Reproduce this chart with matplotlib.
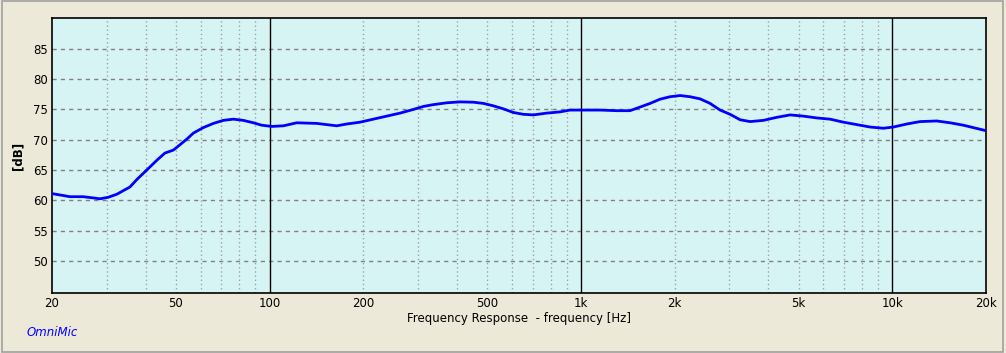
import numpy as np
import matplotlib
matplotlib.use("Agg")
import matplotlib.pyplot as plt
from matplotlib.patches import Rectangle

# frequency response
freq = [20, 20.2, 21.7, 22.8, 25.2, 27.1, 28.5, 30.3, 32.3, 33.9, 35.6, 37.4, 40.3,
        43.4, 46.1, 49.1, 51.6, 54.2, 56.9, 61.2, 66.0, 71.0, 76.5, 82.3, 88.7,
        94.3, 101.6, 110.7, 122.2, 141.7, 152.5, 164.3, 176.9, 195.2, 215.4,
        237.8, 262.4, 289.4, 311.8, 335.8, 370.6, 408.9, 451.2, 486.0, 523.3,
        563.5, 606.8, 653.2, 703.5, 776.4, 856.8, 922.6, 1018, 1152, 1303, 1438,
        1549, 1668, 1796, 1933, 2082, 2242, 2414, 2599, 2798, 3013, 3245, 3494,
        3855, 4256, 4697, 5181, 5723, 6315, 6968, 7691, 8488, 9362, 10082, 11132,
        12281, 13900, 15332, 16926, 18220, 19620, 20000]
spl = [61.1, 61.07, 60.8, 60.6, 60.6, 60.4, 60.25, 60.5, 61.0, 61.6, 62.2, 63.4, 65.0,
       66.6, 67.8, 68.3, 69.2, 70.1, 71.1, 72.0, 72.7, 73.2, 73.4, 73.2, 72.8,
       72.4, 72.2, 72.3, 72.8, 72.7, 72.5, 72.3, 72.6, 72.9, 73.4,
       73.9, 74.4, 75.0, 75.5, 75.8, 76.1, 76.25, 76.2, 76.0, 75.6,
       75.1, 74.5, 74.2, 74.1, 74.4, 74.6, 74.9, 74.9, 74.9, 74.8, 74.8,
       75.4, 76.0, 76.7, 77.1, 77.3, 77.1, 76.75, 76.0, 74.9, 74.2, 73.3, 73.0,
       73.2, 73.7, 74.1, 73.9, 73.6, 73.4, 72.9, 72.5, 72.1, 71.9, 72.1, 72.6,
       73.0, 73.1, 72.8, 72.4, 72.0, 71.6, 71.5]

xticks = [20, 50, 100, 200, 500, 1000, 2000, 5000, 10000, 20000]
xticklabels = ["20", "50", "100", "200", "500", "1k", "2k", "5k", "10k", "20k"]
yticks = [50, 55, 60, 65, 70, 75, 80, 85]
decades = [100, 1000, 10000]
minor = [30, 40, 50, 60, 70, 80, 90,
         200, 300, 400, 500, 600, 700, 800, 900,
         2000, 3000, 4000, 5000, 6000, 7000, 8000, 9000]

fig = plt.figure(figsize=(10.06, 3.53), dpi=100, facecolor="#ECE9D8")
fig.patches.append(Rectangle((0.002, 0.004), 0.995, 0.992, transform=fig.transFigure,
                             fill=False, edgecolor="#A0A0A0", linewidth=1.2))
ax = fig.add_axes([52/1006, 60/353, 934/1006, 275/353])
ax.set_facecolor("#D7F4F4")

ax.set_xscale("log")
ax.set_xlim(20, 20000)
ax.set_ylim(44.7, 90.1)

for y in yticks:
    ax.axhline(y, color="#808080", lw=1, ls=(0, (3, 3)), zorder=1)
for f in minor:
    ax.axvline(f, color="#A0A0A0", lw=1, ls=(0, (1, 2)), zorder=1)
for f in decades:
    ax.axvline(f, color="black", lw=1, zorder=2)

ax.plot(freq, spl, color="#0000FF", lw=2.0, zorder=3)

ax.set_xticks(xticks)
ax.set_xticklabels(xticklabels)
ax.xaxis.set_minor_locator(matplotlib.ticker.NullLocator())
ax.set_yticks(yticks)
ax.tick_params(length=0, labelsize=8.5, pad=3)
for s in ax.spines.values():
    s.set_linewidth(1.2)

ax.set_xlabel("Frequency Response  - frequency [Hz]", fontsize=8.5, labelpad=1)
ax.set_ylabel("[dB]", fontsize=8.5, fontweight="bold", labelpad=6)

fig.text(27/1006, 1 - 333/353, "OmniMic", color="#0000FF", fontsize=8.5,
         style="italic", va="center", ha="left")

fig.savefig("out.png", dpi=100, facecolor=fig.get_facecolor())
